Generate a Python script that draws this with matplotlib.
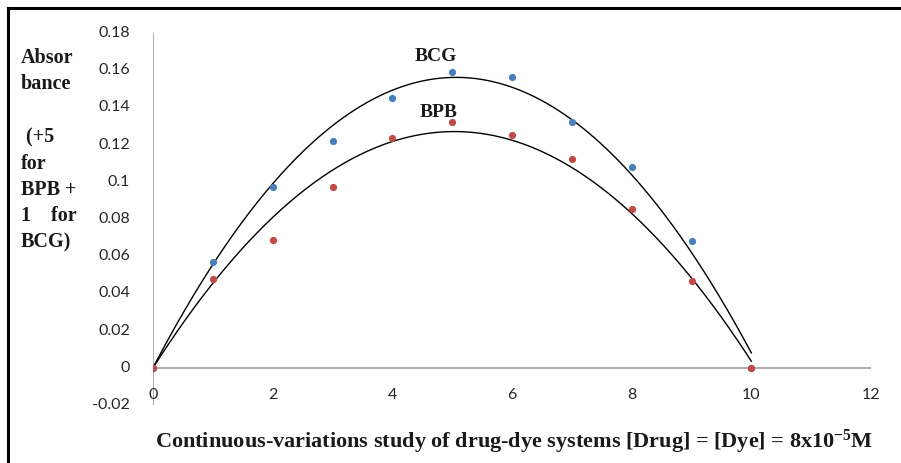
import numpy as np
import matplotlib
matplotlib.use("Agg")
import matplotlib.pyplot as plt
from matplotlib.lines import Line2D

plt.rcParams["mathtext.fontset"] = "custom"
plt.rcParams["mathtext.rm"] = "Liberation Serif:bold"
plt.rcParams["mathtext.bf"] = "Liberation Serif:bold"
plt.rcParams["mathtext.it"] = "Liberation Serif:bold"

# ---- data ----
x_vals = [0, 1, 2, 3, 4, 5, 6, 7, 8, 9, 10]
bcg = [0.0, 0.057, 0.0973, 0.1217, 0.145, 0.159, 0.1563, 0.1319, 0.1079, 0.0681, 0.0]
bpb = [0.0, 0.048, 0.0688, 0.0973, 0.1235, 0.1321, 0.1253, 0.1122, 0.0853, 0.0464, 0.0]
x_ticks = [0, 2, 4, 6, 8, 10, 12]
y_ticks = [-0.02, 0, 0.02, 0.04, 0.06, 0.08, 0.1, 0.12, 0.14, 0.16, 0.18]
y_tick_labels = ["-0.02", "0", "0.02", "0.04", "0.06", "0.08", "0.1", "0.12", "0.14", "0.16", "0.18"]
ylabel_lines = ["Absor", "bance", "", " (+5", "for", "BPB +", "1    for", "BCG)"]
xlabel = "Continuous-variations study of drug-dye systems [Drug] = [Dye] = 8x10$^{\\mathrm{-5}}$M"

W, H = 901, 463
fig = plt.figure(figsize=(W / 100, H / 100), dpi=100)
fig.patch.set_facecolor("white")

left, right = 153, 871
top, bottom = 33, 405
ax = fig.add_axes([left / W, (H - bottom) / H, (right - left) / W, (bottom - top) / H])
ax.set_xlim(0, 12)
ax.set_ylim(-0.02, 0.18)
for s in ax.spines.values():
    s.set_visible(False)
ax.set_xticks([])
ax.set_yticks([])

axis_col = "#a6a6a6"
ax.axhline(0, color=axis_col, lw=1.3, zorder=1)
ax.axvline(0, color=axis_col, lw=1.3, zorder=1)

tick_font = dict(family="Lato", fontsize=11.5, color="#262626")
for v, lab in zip(y_ticks, y_tick_labels):
    ax.text(-23 / 60, v, lab, ha="right", va="center", **tick_font)
for v in x_ticks:
    ax.text(v, -0.0145, str(v), ha="center", va="center", **tick_font)

blue = "#4a7ebb"
red = "#be4b48"
xs = np.array(x_vals, dtype=float)
xx = np.linspace(0, 10, 300)
# second-order trendline with intercept fixed at zero
A = np.column_stack([xs ** 2, xs])
for ys in (bcg, bpb):
    coef, *_ = np.linalg.lstsq(A, np.array(ys), rcond=None)
    ax.plot(xx, coef[0] * xx ** 2 + coef[1] * xx, color="black", lw=1.0, zorder=2)
for ys, c in [(bcg, blue), (bpb, red)]:
    ax.plot(xs, ys, "o", color=c, ms=5.2, mec="none", zorder=3)

serif_b = dict(family="Liberation Serif", fontweight="bold", color="#1a1a1a")
ax.text(4.73, 0.1671, "BCG", ha="center", va="center", fontsize=14, **serif_b)
ax.text(4.78, 0.1375, "BPB", ha="center", va="center", fontsize=14, **serif_b)

# y label block
y0 = 58
step = 26.4
for i, line in enumerate(ylabel_lines):
    if line:
        fig.text(21 / W, 1 - (y0 + i * step) / H, line, ha="left", va="center",
                 fontsize=14.5, **serif_b)

fig.text(514 / W, 1 - 442 / H, xlabel, ha="center", va="center", fontsize=16, **serif_b)

# chart border (top and left)
fig.add_artist(Line2D([8 / W, 1], [1 - 8 / H, 1 - 8 / H], color="black", lw=2.2,
                      transform=fig.transFigure))
fig.add_artist(Line2D([8 / W, 8 / W], [1 - 8 / H, 0], color="black", lw=2.2,
                      transform=fig.transFigure))

fig.savefig("out.png", dpi=100)
